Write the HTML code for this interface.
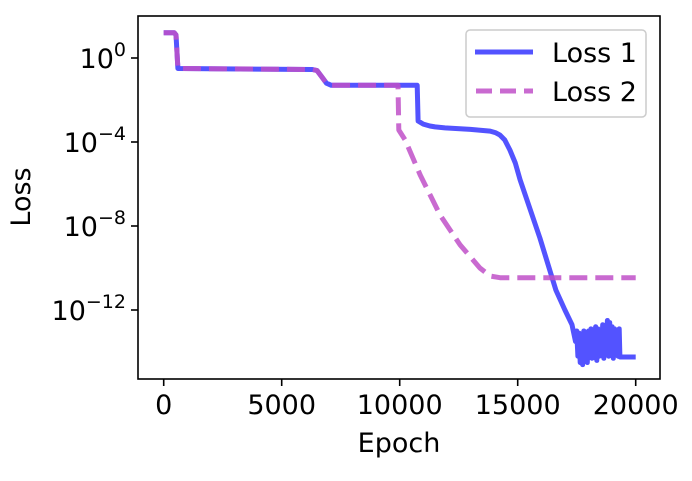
<!DOCTYPE html>
<html><head><meta charset="utf-8"><style>
body{margin:0;background:#fff;}
svg text{font-family:"DejaVu Sans","Liberation Sans",sans-serif;fill:#000;}
</style></head><body>
<svg id="chart" width="692" height="476" viewBox="0 0 692 476" xmlns="http://www.w3.org/2000/svg">
<g id="plot"></g>
</svg>
<script>
const xTicks=[0,5000,10000,15000,20000];
const xTickLabels=["0","5000","10000","15000","20000"];
const yTicks=[0,-4,-8,-12];
const yTickLabels=["0","\u22124","\u22128","\u221212"];
const loss1Epochs=[0,450,520,600,6300,6500,6700,6900,7100,10740,10780,11000,11280,11500,11920,13000,13830,14050,14250,14450,14670,14900,15100,15940,16620,17000,17300,17450,17500,17550,17600,17650,17700,17750,17800,17850,17900,17950,18000,18050,18100,18150,18200,18250,18300,18350,18400,18450,18500,18550,18600,18650,18700,18750,18800,18850,18900,18950,19000,19050,19100,19150,19200,19250,19300,19330,20000];
const loss1Log=[1.2,1.2,1.1,-0.5,-0.55,-0.6,-0.9,-1.2,-1.3,-1.3,-3.0,-3.15,-3.24,-3.28,-3.33,-3.4,-3.48,-3.55,-3.67,-3.9,-4.38,-5.0,-5.8,-8.57,-11.05,-12.0,-12.7,-13.5,-13.0,-14.2,-13.1,-14.5,-13.2,-14.6,-13.0,-14.4,-13.3,-14.5,-13.0,-14.1,-12.9,-14.3,-13.2,-14.0,-12.8,-14.4,-12.9,-14.2,-13.2,-13.9,-12.7,-14.3,-12.9,-14.1,-12.5,-14.2,-12.6,-14.0,-12.8,-14.3,-12.9,-14.1,-13.0,-14.2,-12.9,-14.24,-14.24];
const loss2Epochs=[0,450,520,600,6300,6500,6700,6900,7100,9930,9960,10230,10870,11710,12560,13400,13830,14250,20000];
const loss2Log=[1.2,1.2,1.1,-0.5,-0.55,-0.6,-0.9,-1.2,-1.3,-1.3,-3.43,-3.9,-5.57,-7.48,-8.9,-10.0,-10.38,-10.46,-10.46];

const L=138,R=660,T=16,B=379;
const xs=e=>163.7+e*(118/5000);
const ys=v=>58-v*21;
const g=document.getElementById('plot');
const NS="http://www.w3.org/2000/svg";
function mk(tag,at){const el=document.createElementNS(NS,tag);for(const k in at)el.setAttribute(k,at[k]);g.appendChild(el);return el;}
function path(ex,vy){return ex.map((e,i)=>(i?'L':'M')+xs(e).toFixed(1)+','+ys(vy[i]).toFixed(1)).join(' ');}

const p1=mk('path',{d:path(loss1Epochs,loss1Log),fill:'none',stroke:'#4040ff','stroke-opacity':0.9,'stroke-width':5,'stroke-linejoin':'round'});


const p2=mk('path',{d:path(loss2Epochs,loss2Log),fill:'none',stroke:'#c050c8','stroke-opacity':0.85,'stroke-width':5,'stroke-dasharray':'18,8','stroke-linejoin':'round'});



const fr=mk('rect',{x:L,y:T,width:R-L,height:B-T,fill:'none',stroke:'#000','stroke-width':1.6});



xTicks.forEach((t,i)=>{
  const x=xs(t);
  const tk=mk('line',{x1:x,x2:x,y1:B,y2:B+7,stroke:'#000','stroke-width':1.6});
  
  
  const tx=mk('text',{x:x,y:B+35,'text-anchor':'middle','font-size':27});
  tx.textContent=xTickLabels[i];
  
  
});
yTicks.forEach((t,i)=>{
  const y=ys(t);
  const tk=mk('line',{x1:L-7,x2:L,y1:y,y2:y,stroke:'#000','stroke-width':1.6});
  
  
  const tx=mk('text',{x:L-12,y:y+10,'text-anchor':'end','font-size':27});
  tx.innerHTML='10<tspan dy="-12" font-size="19">'+yTickLabels[i]+'</tspan>';
  
  
});
const xl=mk('text',{x:399,y:452,'text-anchor':'middle','font-size':27});
xl.textContent='Epoch';


const yl=mk('text',{x:30,y:197,'text-anchor':'middle','font-size':27,transform:'rotate(-90 30 197)'});
yl.textContent='Loss';



const lg=mk('rect',{x:466,y:30,width:180,height:87,rx:4,fill:'#fff','fill-opacity':0.8,stroke:'#ccc','stroke-width':1.5});


const l1=mk('line',{x1:475,x2:533,y1:52,y2:52,stroke:'#4040ff','stroke-opacity':0.9,'stroke-width':5});


const t1=mk('text',{x:552,y:62,'font-size':27});t1.textContent='Loss 1';


const l2=mk('line',{x1:476,x2:533,y1:91,y2:91,stroke:'#c050c8','stroke-opacity':0.85,'stroke-width':5,'stroke-dasharray':'16,8'});


const t2=mk('text',{x:552,y:101,'font-size':27});t2.textContent='Loss 2';


</script>
</body></html>
